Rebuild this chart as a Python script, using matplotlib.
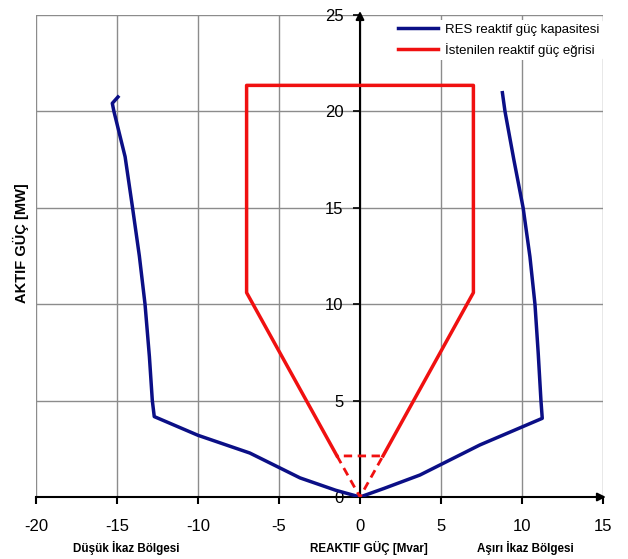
import matplotlib
matplotlib.use("Agg")
import matplotlib.pyplot as plt

plt.rcParams['font.family'] = ['Liberation Sans', 'DejaVu Sans']
plt.rcParams['axes.unicode_minus'] = False

# RES reactive capability curve (Q [Mvar], P [MW])
left_q = [-14.94, -15.29, -15.19, -14.5, -14.05, -13.62, -13.27, -13.0, -12.82, -12.7, -10.0, -6.8, -3.7, -1.5, 0.0]
left_p = [20.75, 20.42, 20.0, 17.65, 15.06, 12.5, 10.0, 7.28, 5.0, 4.17, 3.2, 2.28, 0.99, 0.35, 0.0]
right_q = [0.0, 1.5, 3.7, 7.4, 11.25, 11.17, 11.0, 10.8, 10.49, 10.07, 9.5, 8.95, 8.79]
right_p = [0.0, 0.45, 1.14, 2.7, 4.08, 5.0, 7.47, 10.0, 12.46, 15.0, 17.48, 20.0, 20.97]

# Required reactive power curve
req_q = [-1.42, -7.0, -7.0, 7.0, 7.0, 1.42]
req_p = [2.13, 10.6, 21.35, 21.35, 10.6, 2.13]
req_dash_q = [-1.42, 0.0, 1.42, -1.42]
req_dash_p = [2.13, 0.0, 2.13, 2.13]

xticks = [-20, -15, -10, -5, 0, 5, 10, 15]
yticks = [0, 5, 10, 15, 20, 25]

fig = plt.figure(figsize=(6.28, 5.59), dpi=100)
ax = fig.add_axes([36/628, 1-497/559, (603-36)/628, (497-15)/559])
ax.set_xlim(-20, 15)
ax.set_ylim(0, 25)

ax.set_xticks(xticks)
ax.set_yticks(yticks)
ax.grid(True, color='#8c8c8c', linewidth=1.0)
ax.set_axisbelow(True)

for s in ['top', 'right']:
    ax.spines[s].set_visible(False)
ax.spines['left'].set_position(('data', 0))
ax.spines['left'].set_color('black')
ax.spines['left'].set_linewidth(1.5)
ax.spines['bottom'].set_color('black')
ax.spines['bottom'].set_linewidth(1.5)
ax.spines['left'].set_zorder(1)

ax.tick_params(axis='x', direction='out', length=5, width=1.5, labelsize=12, pad=11)
ax.tick_params(axis='y', direction='out', length=5, width=1.2, labelsize=12, pad=7)

# arrows on the axes
ax.annotate('', xy=(15.35, 0), xytext=(14.5, 0),
            arrowprops=dict(arrowstyle='-|>', color='black', lw=1.5, mutation_scale=12),
            annotation_clip=False)
ax.annotate('', xy=(0, 25.35), xytext=(0, 24.5),
            arrowprops=dict(arrowstyle='-|>', color='black', lw=1.5, mutation_scale=12),
            annotation_clip=False)

ax.plot(left_q, left_p, color='#0b0f86', lw=2.5, solid_joinstyle='round',
        label='RES reaktif güç kapasitesi', zorder=3)
ax.plot(right_q, right_p, color='#0b0f86', lw=2.5, solid_joinstyle='round', zorder=3)
ax.plot(req_q, req_p, color='#f01010', lw=2.5, label='İstenilen reaktif güç eğrisi', zorder=3)
ax.plot(req_dash_q, req_dash_p, color='#f01010', lw=2.0, ls=(0, (3, 2)), zorder=3)

leg = ax.legend(loc='upper right', bbox_to_anchor=(1.0, 0.99), frameon=True, fontsize=9.5,
                handlelength=3.0, handletextpad=0.5, borderaxespad=0.0, borderpad=0.3,
                labelspacing=0.5)
leg.get_frame().set_edgecolor('none')
leg.get_frame().set_facecolor('white')
leg.get_frame().set_alpha(1)

ax.set_ylabel('AKTIF GÜÇ [MW]', fontsize=10.5, fontweight='bold')
ax.yaxis.set_label_coords((29-36)/567, (497-243)/482)

fig.text(126/628, 1-548/559, 'Düşük İkaz Bölgesi', fontsize=8.4, fontweight='bold', ha='center', va='center')
fig.text(369/628, 1-548/559, 'REAKTIF GÜÇ [Mvar]', fontsize=8.4, fontweight='bold', ha='center', va='center')
fig.text(525/628, 1-548/559, 'Aşırı İkaz Bölgesi', fontsize=8.4, fontweight='bold', ha='center', va='center')

fig.savefig('out.png', dpi=100)
